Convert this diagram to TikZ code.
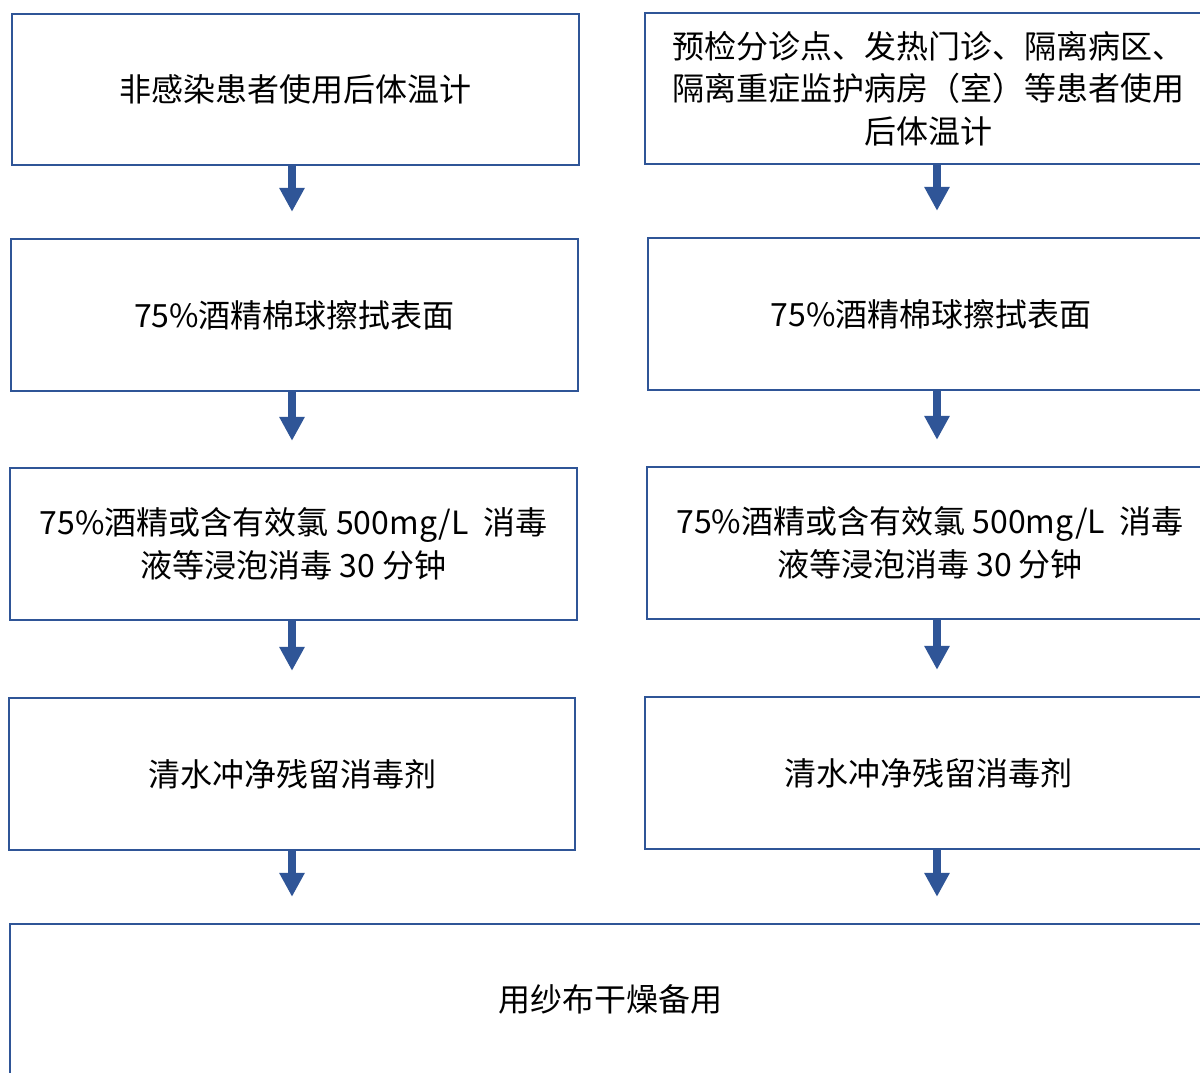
\documentclass[tikz,border=0pt]{standalone}
\usepackage{fontspec}
\setmainfont{Noto Sans CJK SC}
\usetikzlibrary{arrows.meta}
\definecolor{boxblue}{RGB}{47,85,151}
\begin{document}
\begin{tikzpicture}[x=1pt,y=-1pt,
  box/.style={draw=boxblue, line width=2.4pt, rectangle, inner sep=0pt, align=center,
    font=\fontsize{32}{42.5}\selectfont, text=black},
  arr/.style={draw=boxblue, line width=8pt, -{Triangle[length=24pt,width=24pt]}, shorten >=26pt}]
\useasboundingbox (0,0) rectangle (1200,1072);
\clip (0,0) rectangle (1200,1072);
\fill[white] (0,0) rectangle (1200,1072);
% left column
\node[box, minimum width=567pt, minimum height=151pt] (l1) at (295.5,89.5) {非感染患者使用后体温计};
\node[box, minimum width=567pt, minimum height=152pt] (l2) at (294.5,315) {75\%酒精棉球擦拭表面};
\node[box, minimum width=567pt, minimum height=152pt] (l3) at (293.5,544) {75\%酒精或含有效氯 500mg/L\ \ 消毒\\液等浸泡消毒 30 分钟};
\node[box, minimum width=566pt, minimum height=152pt] (l4) at (292,774) {清水冲净残留消毒剂};
% right column
\node[box, minimum width=566pt, minimum height=151pt] (r1) at (928,88.5) {预检分诊点、发热门诊、隔离病区、\\隔离重症监护病房（室）等患者使用\\后体温计};
\node[box, minimum width=566pt, minimum height=152pt] (r2) at (931,314) {75\%酒精棉球擦拭表面};
\node[box, minimum width=566pt, minimum height=152pt] (r3) at (930,543) {75\%酒精或含有效氯 500mg/L\ \ 消毒\\液等浸泡消毒 30 分钟};
\node[box, minimum width=566pt, minimum height=152pt] (r4) at (928,773) {清水冲净残留消毒剂};
% bottom
\node[box, minimum width=1200pt, minimum height=150pt] (b) at (610,999) {用纱布干燥备用};
% arrows
\coordinate (axL) at (292,0);
\coordinate (axR) at (937,0);
\draw[arr] (axL |- l1.south) -- (axL |- l2.north);
\draw[arr] (axL |- l2.south) -- (axL |- l3.north);
\draw[arr] (axL |- l3.south) -- (axL |- l4.north);
\draw[arr] (axL |- l4.south) -- (axL |- b.north);
\draw[arr] (axR |- r1.south) -- (axR |- r2.north);
\draw[arr] (axR |- r2.south) -- (axR |- r3.north);
\draw[arr] (axR |- r3.south) -- (axR |- r4.north);
\draw[arr] (axR |- r4.south) -- (axR |- b.north);
\end{tikzpicture}
\end{document}
